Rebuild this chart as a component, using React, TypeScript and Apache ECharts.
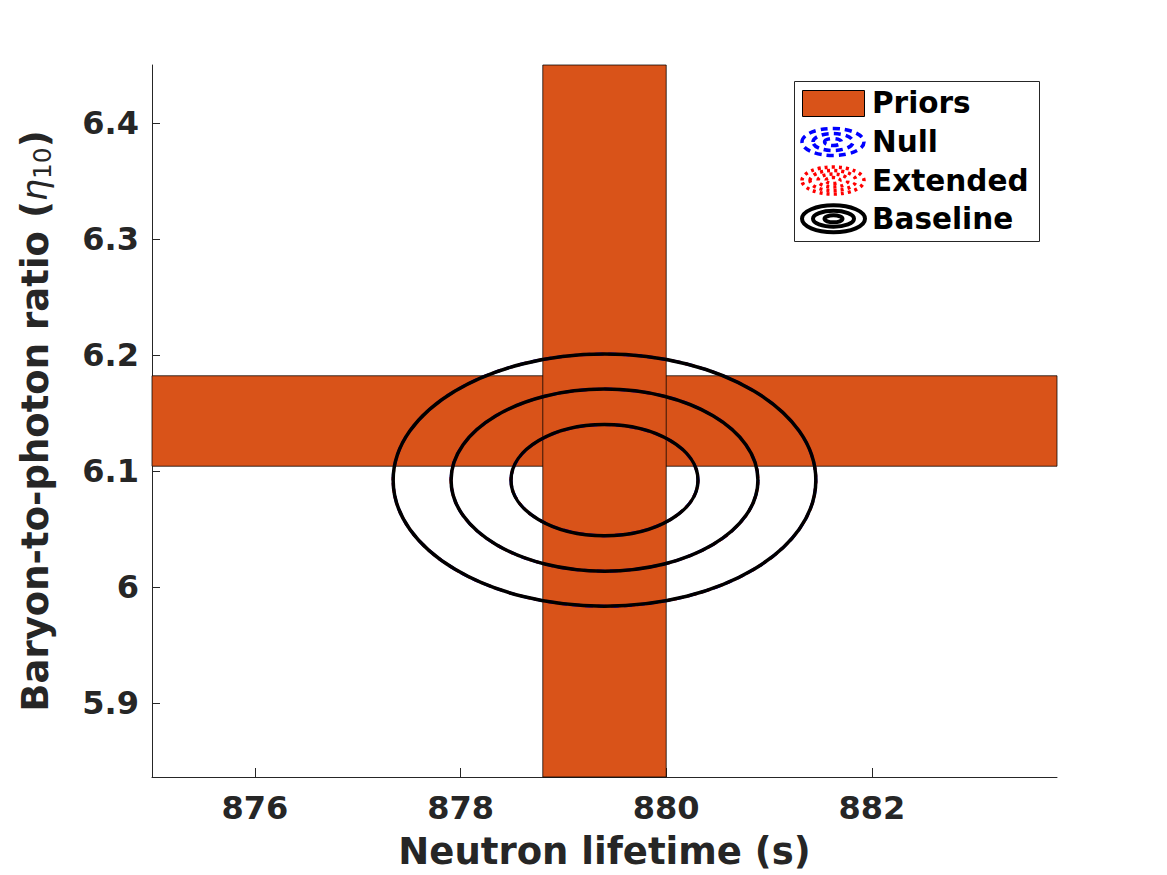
import React, { useEffect, useRef } from "react";
import * as echarts from "echarts";

// Axis limits
const xRange = [875, 883.8];
const yRange = [5.836, 6.45];
const xTickValues = [876, 878, 880, 882];
const yTickValues = [5.9, 6.0, 6.1, 6.2, 6.3, 6.4];

// Prior bands
const tauBand = [878.8, 880.0]; // neutron lifetime prior (s)
const etaBand = [6.104, 6.182]; // baryon-to-photon prior

// Contours (center and semi-axes for 1,2,3 sigma)
const contourCenter = [879.4, 6.092];
const contourRx = [0.909, 1.492, 2.055];
const contourRy = [0.0479, 0.0785, 0.1087];

const FONT = '"DejaVu Sans", sans-serif';
const TXT = "#262626";
const ORANGE = "#D95319";

const priorBoxes = [
  [xRange[0], xRange[1], etaBand[0], etaBand[1]],
  [tauBand[0], tauBand[1], yRange[0], yRange[1]],
];
const contourRows = contourRx.map((rx, i) => [contourCenter[0], contourCenter[1], rx, contourRy[i]]);

function rectItem(params: any, api: any) {
  const p0 = api.coord([api.value(0), api.value(3)]);
  const p1 = api.coord([api.value(1), api.value(2)]);
  const cs = params.coordSys;
  const shape = echarts.graphic.clipRectByRect(
    { x: p0[0], y: p0[1], width: p1[0] - p0[0], height: p1[1] - p0[1] },
    { x: cs.x, y: cs.y, width: cs.width, height: cs.height }
  );
  return shape
    ? {
        type: "rect",
        shape,
        style: { fill: ORANGE, stroke: "rgba(0,0,0,0.75)", lineWidth: 1 },
      }
    : null;
}

function ellipseRenderer(stroke: string, lineWidth: number, dash?: number[]) {
  return (params: any, api: any) => {
    const c = api.coord([api.value(0), api.value(1)]);
    const e = api.coord([api.value(0) + api.value(2), api.value(1) + api.value(3)]);
    return {
      type: "ellipse",
      shape: { cx: c[0], cy: c[1], rx: Math.abs(e[0] - c[0]), ry: Math.abs(c[1] - e[1]) },
      style: { fill: "none", stroke, lineWidth, lineDash: dash || null },
    };
  };
}

function legendRings(cx: number, cy: number, rxs: number[], rys: number[], stroke: string, lw: number, dash?: number[]) {
  return rxs.map((rx, i) => ({
    type: "ellipse",
    shape: { cx, cy, rx, ry: rys[i] },
    style: { fill: "none", stroke, lineWidth: lw, lineDash: dash || null },
    z: 101,
  }));
}

export default function App() {
  const ref = useRef<HTMLDivElement>(null);
  useEffect(() => {
    const chart = echarts.init(ref.current!, null, { renderer: "svg" });
    const legendText = (text: string, y: number) => ({
      type: "text",
      x: 872,
      y,
      z: 101,
      style: {
        text,
        fill: "#000",
        font: `bold 29.5px ${FONT}`,
        verticalAlign: "middle",
        align: "left",
      },
    });
    chart.setOption({
      animation: false,
      backgroundColor: "#ffffff",
      grid: { left: 152, right: 110, top: 65, bottom: 98, containLabel: false },
      xAxis: {
        type: "value",
        min: xRange[0],
        max: xRange[1],
        name: "Neutron lifetime (s)",
        nameLocation: "middle",
        nameGap: 56,
        nameTextStyle: { fontFamily: FONT, fontWeight: "bold", fontSize: 37, color: TXT },
        axisLine: { show: true, onZero: false, lineStyle: { color: TXT, width: 1 } },
        axisTick: { show: true, inside: true, length: 9, customValues: xTickValues, lineStyle: { color: TXT } },
        axisLabel: {
          customValues: xTickValues,
          margin: 15,
          fontFamily: FONT,
          fontWeight: "bold",
          fontSize: 32,
          color: TXT,
          formatter: (v: number) => String(v),
        },
        splitLine: { show: false },
      },
      yAxis: {
        type: "value",
        min: yRange[0],
        max: yRange[1],
        name: "Baryon-to-photon ratio ({eta|η}{sub|10})",
        nameLocation: "middle",
        nameGap: 97,
        nameRotate: 90,
        nameTextStyle: {
          fontFamily: FONT,
          fontWeight: "bold",
          fontSize: 37,
          color: TXT,
          rich: {
            eta: { fontFamily: FONT, fontStyle: "italic", fontWeight: "normal", fontSize: 35, color: TXT },
            sub: {
              fontFamily: FONT,
              fontWeight: "normal",
              fontSize: 25,
              color: TXT,
              padding: [15, 0, 0, 0],
            },
          },
        },
        axisLine: { show: true, onZero: false, lineStyle: { color: TXT, width: 1 } },
        axisTick: { show: true, inside: true, length: 8, customValues: yTickValues, lineStyle: { color: TXT } },
        axisLabel: {
          customValues: yTickValues,
          margin: 13,
          fontFamily: FONT,
          fontWeight: "bold",
          fontSize: 32,
          color: TXT,
          formatter: (v: number) => String(Number(v.toFixed(2))),
        },
        splitLine: { show: false },
      },
      series: [
        {
          name: "Priors",
          type: "custom",
          renderItem: rectItem,
          data: priorBoxes,
          encode: { x: [0, 1], y: [2, 3] },
          z: 1,
          silent: true,
        },
        {
          name: "Null",
          type: "custom",
          renderItem: ellipseRenderer("#0000ff", 3, [8, 5]),
          data: contourRows,
          encode: { x: 0, y: 1 },
          z: 2,
          silent: true,
        },
        {
          name: "Extended",
          type: "custom",
          renderItem: ellipseRenderer("#ff0000", 3, [3, 4]),
          data: contourRows,
          encode: { x: 0, y: 1 },
          z: 3,
          silent: true,
        },
        {
          name: "Baseline",
          type: "custom",
          renderItem: ellipseRenderer("#000000", 3.5),
          data: contourRows,
          encode: { x: 0, y: 1 },
          z: 4,
          silent: true,
        },
      ],
      graphic: [
        {
          type: "rect",
          shape: { x: 794.5, y: 81.5, width: 245, height: 160 },
          style: { fill: "#fff", stroke: TXT, lineWidth: 1 },
          z: 100,
        },
        {
          type: "rect",
          shape: { x: 802.5, y: 90.5, width: 62, height: 26 },
          style: { fill: ORANGE, stroke: "#000", lineWidth: 1 },
          z: 101,
        },
        ...legendRings(833, 142, [31, 20, 8.5], [13.5, 8.5, 3.5], "#0000ff", 3.5, [7, 5]),
        ...legendRings(833, 180.5, [31, 23, 15, 7], [13.5, 10, 6.5, 3], "#ff0000", 3.5, [3, 4]),
        ...legendRings(833.5, 218.8, [31.5, 20.5, 9], [13.5, 8, 3.5], "#000000", 4),
        legendText("Priors", 103),
        legendText("Null", 141.5),
        legendText("Extended", 180.5),
        legendText("Baseline", 218.5),
      ],
    });
    return () => chart.dispose();
  }, []);
  return (
    <div
      ref={ref}
      style={{ position: "absolute", left: 0, top: 0, width: 1167, height: 875, background: "#fff" }}
    />
  );
}
